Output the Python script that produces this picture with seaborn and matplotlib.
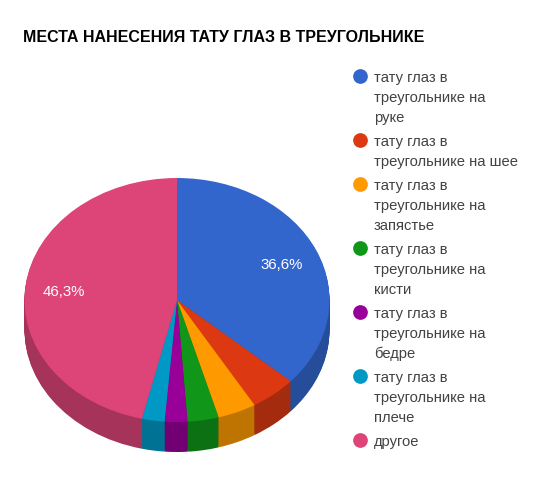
import numpy as np
import matplotlib
matplotlib.use("Agg")
import matplotlib.pyplot as plt
from matplotlib.colors import to_rgb
from matplotlib.lines import Line2D
import seaborn as sns

sns.set_theme(style="white")
plt.rcParams["font.family"] = ["Liberation Sans", "DejaVu Sans"]

# data
title = "МЕСТА НАНЕСЕНИЯ ТАТУ ГЛАЗ В ТРЕУГОЛЬНИКЕ"
categories = [
    "тату глаз в\nтреугольнике на\nруке",
    "тату глаз в\nтреугольнике на шее",
    "тату глаз в\nтреугольнике на\nзапястье",
    "тату глаз в\nтреугольнике на\nкисти",
    "тату глаз в\nтреугольнике на\nбедре",
    "тату глаз в\nтреугольнике на\nплече",
    "другое",
]
values = [36.6, 4.9, 4.1, 3.3, 2.4, 2.4, 46.3]
colors = ["#3366cc", "#dc3912", "#ff9900", "#109618", "#990099", "#0099c6", "#dd4477"]

W, H = 560, 485
CX, CY = 177, 301    # pie centre, px
RX, RY = 152.5, 122  # ellipse radii, px
DEPTH = 30           # side wall height, px

palette = sns.color_palette(colors)
dark = [tuple(np.array(to_rgb(c)) * 0.75) for c in palette]

fig = plt.figure(figsize=(W / 100, H / 100), dpi=100, facecolor="white")
ax = fig.add_axes([0, 0, 1, 1])


def pct_label(pct):
    # only the two big slices have a label
    return f"{pct:.1f}%".replace(".", ",") if pct > 10 else ""


# side wall: dark copies of the pie stacked downward
for d in range(DEPTH, 0, -1):
    ax.pie(values, colors=dark, startangle=90, counterclock=False, center=(0, -d / RY),
           wedgeprops={"linewidth": 0})

wedges, _, autotexts = ax.pie(
    values, colors=palette, startangle=90, counterclock=False,
    autopct=pct_label, pctdistance=0.75,
    wedgeprops={"linewidth": 0},
    textprops={"color": "white", "fontsize": 10.8},
)
for t in autotexts:
    t.set_y(t.get_position()[1] - 1.5 / RY)

# ellipse instead of circle
ax.set_aspect("auto")
ax.set_xlim(-CX / RX, (W - CX) / RX)
ax.set_ylim(-(H - CY) / RY, CY / RY)
ax.axis("off")

fig.text(23 / W, 1 - 37 / H, title, fontsize=11.5, fontweight="bold", color="black",
         va="center", ha="left")

# legend, first text line of each entry
legend_y = [77, 141, 185, 249, 313, 377, 441]
for label, c, y in zip(categories, palette, legend_y):
    fig.add_artist(Line2D([360 / W], [1 - y / H], marker="o", markersize=10.6, color=c,
                          markeredgewidth=0, linestyle="none", transform=fig.transFigure))
    for i, line in enumerate(label.split("\n")):
        fig.text(374 / W, 1 - (y + 1 + i * 20) / H, line, fontsize=10.65, color="#424242",
                 va="center", ha="left")

fig.savefig("out.png", dpi=100, facecolor="white")
